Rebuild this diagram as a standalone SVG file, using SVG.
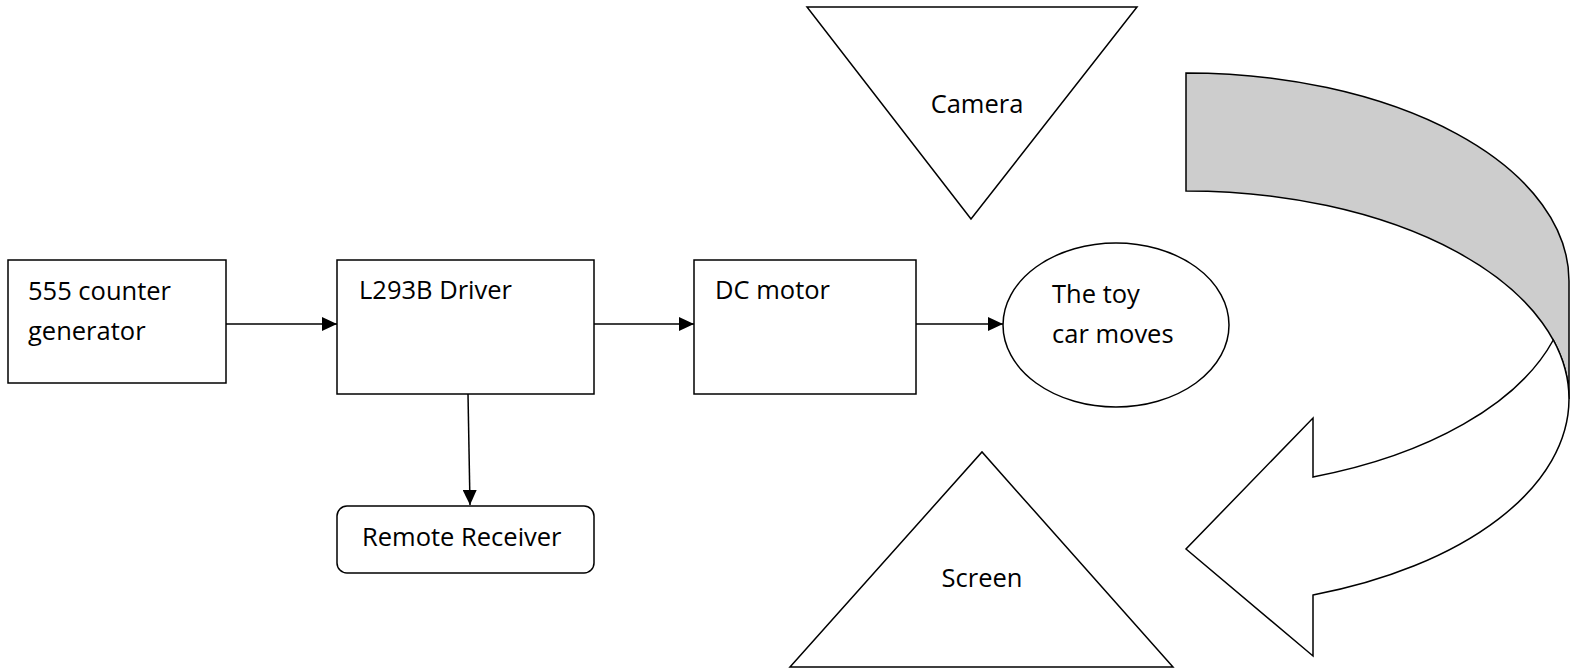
<svg xmlns="http://www.w3.org/2000/svg" width="1570" height="669" viewBox="0 0 1570 669">
<style>
.s{fill:#fff;stroke:#000;stroke-width:1.5}
.t{font-family:"Open Sans","Liberation Sans",sans-serif;font-size:25.5px;fill:#000}
.c{stroke:#000;stroke-width:1.5;fill:none}
</style>
<defs>
<marker id="ah" viewBox="0 0 15 14" refX="15" refY="7" markerWidth="15" markerHeight="14" markerUnits="userSpaceOnUse" orient="auto">
<path d="M0,0 L15,7 L0,14 Z" fill="#000"/>
</marker>
</defs>
<rect width="1570" height="669" fill="#fff"/>
<g id="connectors">
<line class="c" x1="226" y1="324" x2="337" y2="324" marker-end="url(#ah)"/>
<line class="c" x1="594" y1="324" x2="694" y2="324" marker-end="url(#ah)"/>
<line class="c" x1="916" y1="324" x2="1003" y2="324" marker-end="url(#ah)"/>
<line class="c" x1="468" y1="394" x2="470" y2="505" marker-end="url(#ah)"/>
</g>
<g id="n555">
<rect class="s" x="8" y="260" width="218" height="123"/>
<text class="t" x="28" y="300">555 counter</text>
<text class="t" x="28" y="340">generator</text>
</g>
<g id="driver">
<rect class="s" x="337" y="260" width="257" height="134"/>
<text class="t" x="359" y="299">L293B Driver</text>
</g>
<g id="motor">
<rect class="s" x="694" y="260" width="222" height="134"/>
<text class="t" x="715" y="299">DC motor</text>
</g>
<g id="car">
<ellipse class="s" cx="1116" cy="325" rx="113" ry="82"/>
<text class="t" x="1052" y="303">The toy</text>
<text class="t" x="1052" y="343">car moves</text>
</g>
<g id="receiver">
<rect class="s" x="337" y="506" width="257" height="67" rx="10" ry="10"/>
<text class="t" x="362" y="546">Remote Receiver</text>
</g>
<g id="camera">
<polygon class="s" points="807,7 1137,7 971,219"/>
<text class="t" x="977" y="113" text-anchor="middle">Camera</text>
</g>
<g id="screen">
<polygon class="s" points="790,667 1173,667 982,452"/>
<text class="t" x="982" y="587" text-anchor="middle">Screen</text>
</g>
<g id="curved-arrow">
<path d="M1186,73 A383 208 0 0 1 1569,281 L1569,399 A383 208 0 0 0 1186,191 Z" fill="#cdcdcd" stroke="#000" stroke-width="1.5" stroke-linejoin="miter"/>
<path d="M1313,477 A383 208 0 0 0 1553.3,340 A383 208 0 0 1 1569,399 A383 208 0 0 1 1313,595 L1313,656 L1186,549 L1313,418 Z" fill="#fff" stroke="#000" stroke-width="1.5" stroke-linejoin="miter"/>
</g>
</svg>
